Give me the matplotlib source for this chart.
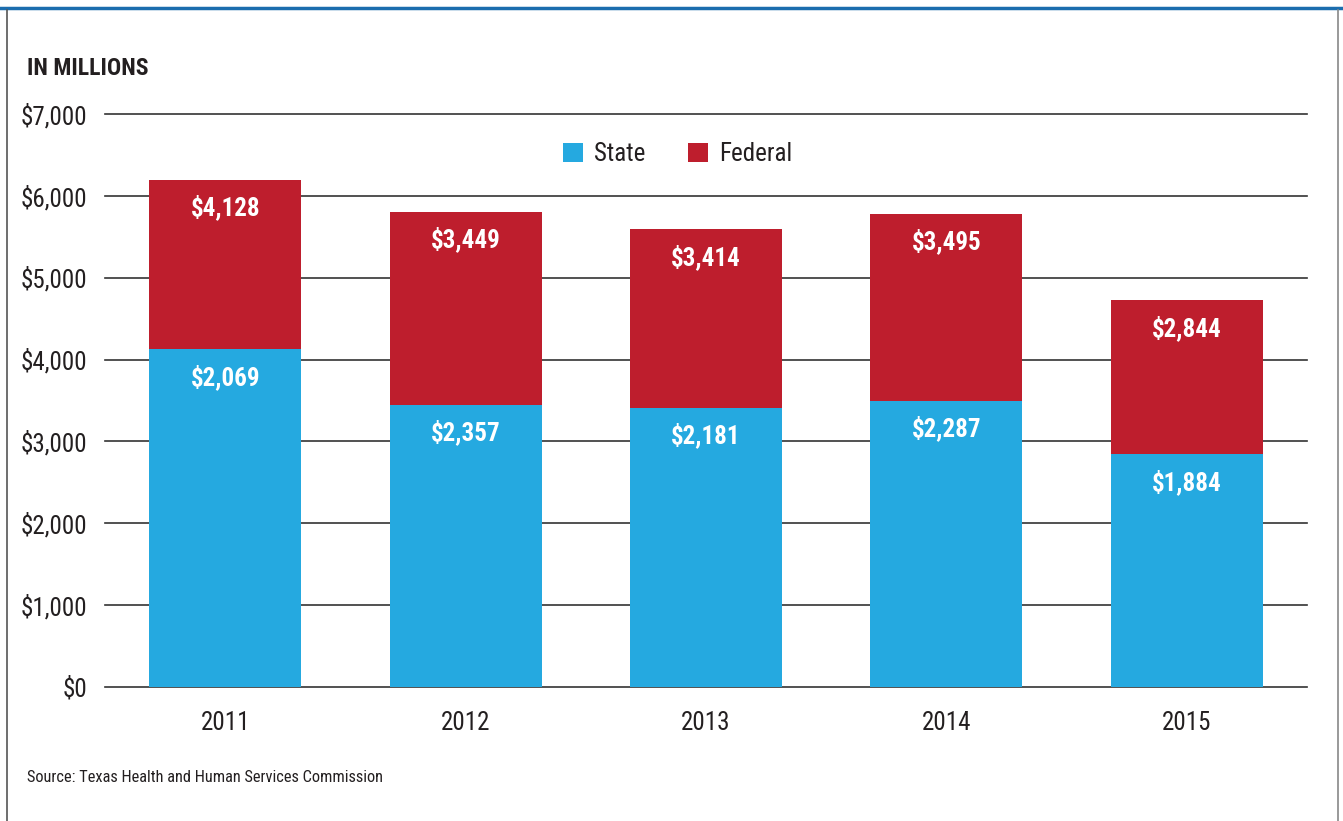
import matplotlib.pyplot as plt
from matplotlib.lines import Line2D
from matplotlib.patches import Patch

# =====================================================
# Data (values as printed on the chart)
# =====================================================

years = ["2011", "2012", "2013", "2014", "2015"]

state = [2069, 2357, 2181, 2287, 1884]
federal = [4128, 3449, 3414, 3495, 2844]

# in the original graphic the blue segment is drawn with the
# federal figure as its height and the red one with the state figure
blue_heights = federal
red_heights = state

y_ticks = [0, 1000, 2000, 3000, 4000, 5000, 6000, 7000]
y_tick_labels = ["$0", "$1,000", "$2,000", "$3,000",
                 "$4,000", "$5,000", "$6,000", "$7,000"]

# =====================================================
# Style
# =====================================================

FONT = ["Roboto Condensed", "DejaVu Sans"]
plt.rcParams["font.family"] = FONT
plt.rcParams["font.stretch"] = "condensed"

BLUE = "#25A9E0"
RED = "#BE1E2D"
TEXT = "#231F20"
GRID = "#333333"

fig = plt.figure(figsize=(13.43, 8.21), dpi=100)
ax = fig.add_axes([0.0782, 0.1632, 0.895, 0.6979])

x = range(len(years))
width = 0.632

ax.set_axisbelow(True)
ax.yaxis.grid(True, color=GRID, linewidth=1.2)
for line in ax.get_ygridlines():
    line.set_clip_on(False)

ax.bar(x, blue_heights, width=width, color=BLUE, zorder=3)
ax.bar(x, red_heights, width=width, bottom=blue_heights,
       color=RED, zorder=3)

for i in x:
    ax.annotate(
        f"${state[i]:,}",
        (i, blue_heights[i]),
        xytext=(0, -20),
        textcoords="offset points",
        ha="center", va="center",
        color="white", fontsize=18, fontweight="bold",
        zorder=4
    )
    ax.annotate(
        f"${federal[i]:,}",
        (i, blue_heights[i] + red_heights[i]),
        xytext=(0, -20),
        textcoords="offset points",
        ha="center", va="center",
        color="white", fontsize=18, fontweight="bold",
        zorder=4
    )

ax.set_xlim(-0.5, len(years) - 0.5)
ax.set_ylim(0, 7000)

ax.set_yticks(y_ticks)
ax.set_yticklabels(y_tick_labels)
ax.set_xticks(list(x))
ax.set_xticklabels(years)

ax.tick_params(axis="y", length=0, pad=13, labelsize=18, labelcolor=TEXT)
ax.tick_params(axis="x", length=0, pad=17, labelsize=18, labelcolor=TEXT)

for s in ax.spines.values():
    s.set_visible(False)

handles = [
    Patch(facecolor=BLUE, label="State"),
    Patch(facecolor=RED, label="Federal"),
]

ax.legend(
    handles=handles,
    loc="center",
    bbox_to_anchor=(0.4767, 0.93),
    ncol=2,
    frameon=False,
    fontsize=18,
    handlelength=0.8,
    handleheight=0.8,
    handletextpad=0.45,
    columnspacing=1.7,
    labelcolor=TEXT
)

# =====================================================
# Text and frame
# =====================================================

fig.text(27 / 1343, 1 - 68 / 821, "IN MILLIONS",
         fontsize=17, fontweight="bold", color=TEXT,
         ha="left", va="center")

fig.text(27 / 1343, 1 - 777 / 821,
         "Source: Texas Health and Human Services Commission",
         fontsize=11.8, color=TEXT, ha="left", va="center")

fig.add_artist(Line2D([0, 1], [1 - 8 / 821, 1 - 8 / 821],
                      color="#1B6DAE", linewidth=2.5))
fig.add_artist(Line2D([7 / 1343, 7 / 1343], [0, 1 - 10 / 821],
                      color="#555555", linewidth=1.2))
fig.add_artist(Line2D([1338 / 1343, 1338 / 1343], [0, 1 - 10 / 821],
                      color="#888888", linewidth=1.2))

plt.savefig("out.png", dpi=100)
plt.close()
